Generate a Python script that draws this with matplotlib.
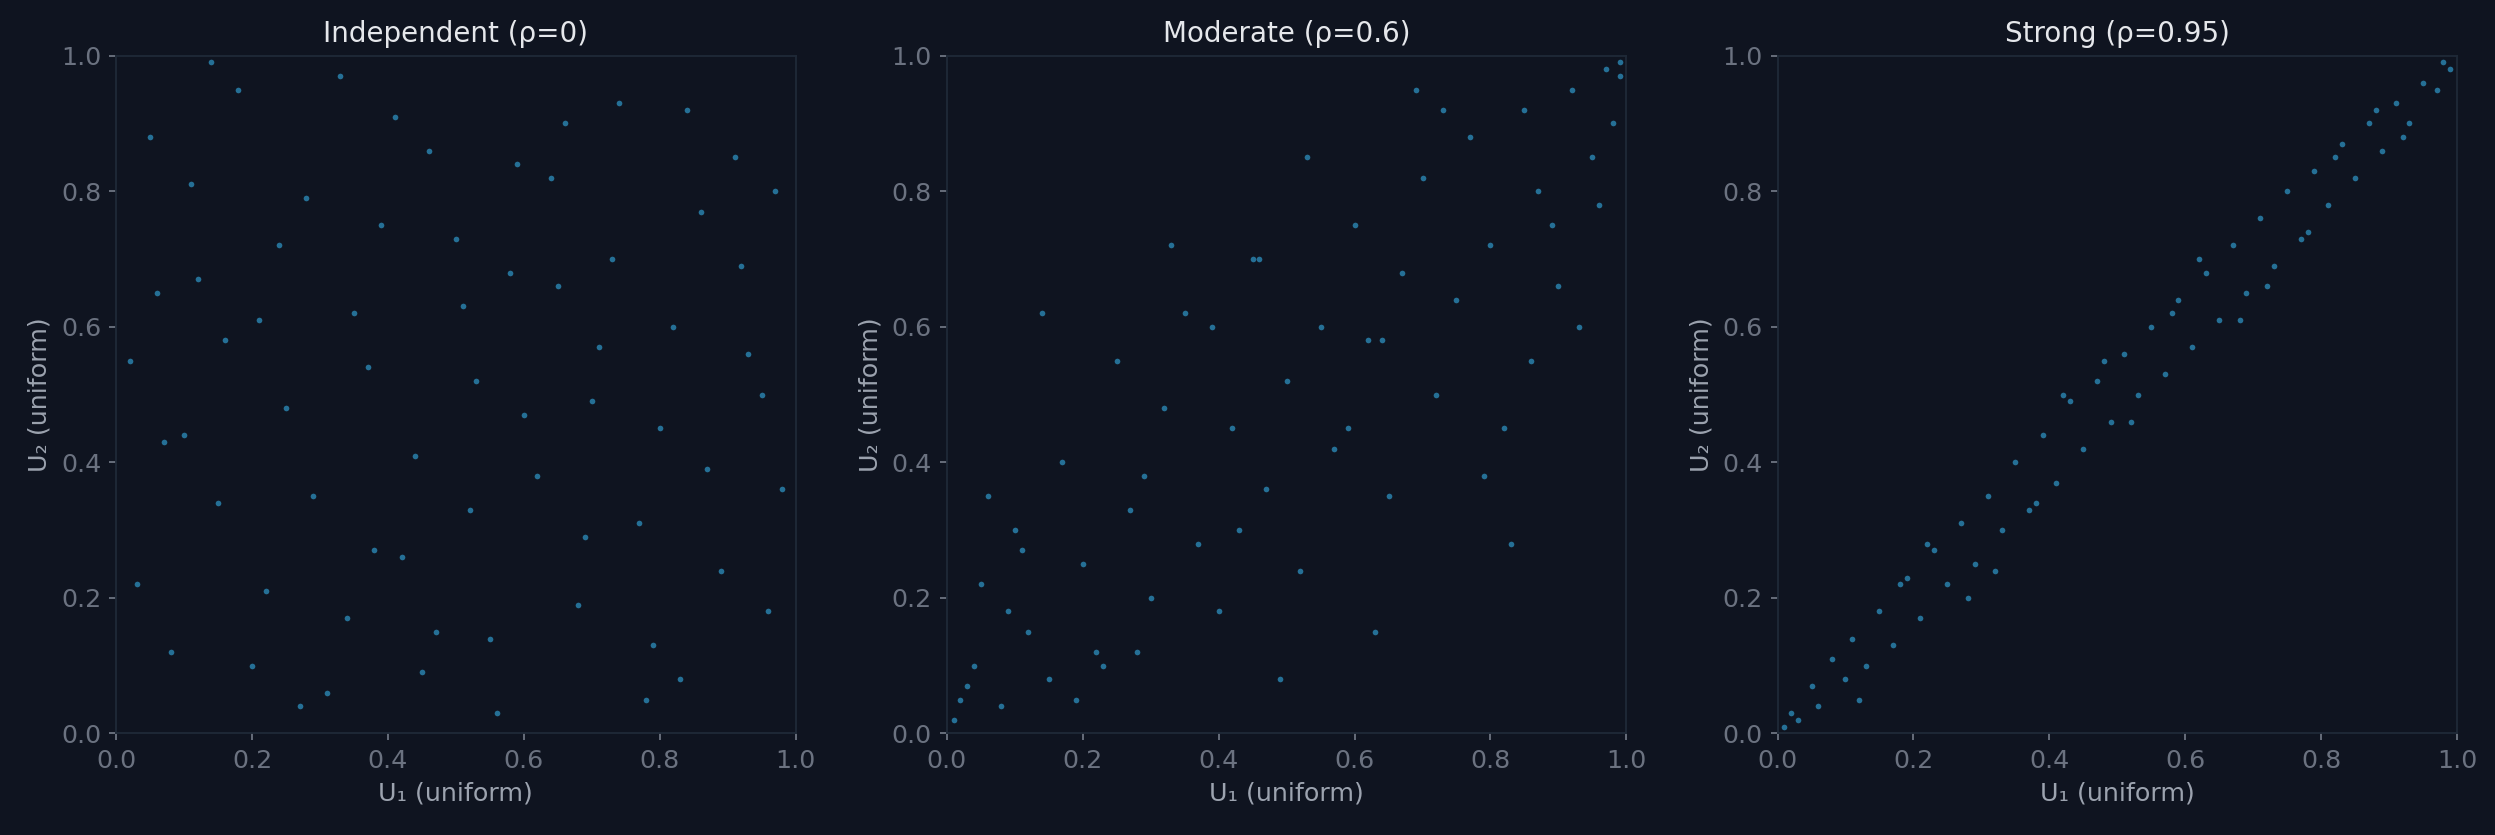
import matplotlib
matplotlib.use('agg')
import matplotlib.pyplot as plt

# points (a subset of the visible sample)
indep_u1 = [0.02, 0.05, 0.08, 0.12, 0.15, 0.18, 0.22, 0.25, 0.28, 0.31, 0.35, 0.38, 0.41, 0.44, 0.47, 0.50,
            0.53, 0.56, 0.59, 0.62, 0.65, 0.68, 0.71, 0.74, 0.77, 0.80, 0.83, 0.86, 0.89, 0.92, 0.95, 0.98,
            0.03, 0.07, 0.11, 0.16, 0.20, 0.24, 0.29, 0.33, 0.37, 0.42, 0.46, 0.51, 0.55, 0.60, 0.64, 0.69,
            0.73, 0.78, 0.82, 0.87, 0.91, 0.96, 0.06, 0.14, 0.27, 0.39, 0.52, 0.66, 0.79, 0.93, 0.10, 0.34,
            0.58, 0.84, 0.21, 0.45, 0.70, 0.97]
indep_u2 = [0.55, 0.88, 0.12, 0.67, 0.34, 0.95, 0.21, 0.48, 0.79, 0.06, 0.62, 0.27, 0.91, 0.41, 0.15, 0.73,
            0.52, 0.03, 0.84, 0.38, 0.66, 0.19, 0.57, 0.93, 0.31, 0.45, 0.08, 0.77, 0.24, 0.69, 0.50, 0.36,
            0.22, 0.43, 0.81, 0.58, 0.10, 0.72, 0.35, 0.97, 0.54, 0.26, 0.86, 0.63, 0.14, 0.47, 0.82, 0.29,
            0.70, 0.05, 0.60, 0.39, 0.85, 0.18, 0.65, 0.99, 0.04, 0.75, 0.33, 0.90, 0.13, 0.56, 0.44, 0.17,
            0.68, 0.92, 0.61, 0.09, 0.49, 0.80]

mod_u1 = [0.01, 0.02, 0.04, 0.05, 0.08, 0.10, 0.12, 0.15, 0.17, 0.20, 0.22, 0.25, 0.27, 0.30, 0.32, 0.35,
          0.37, 0.40, 0.42, 0.45, 0.47, 0.50, 0.52, 0.55, 0.57, 0.60, 0.62, 0.65, 0.67, 0.70, 0.72, 0.75,
          0.77, 0.80, 0.82, 0.85, 0.87, 0.90, 0.92, 0.95, 0.97, 0.99, 0.06, 0.14, 0.23, 0.33, 0.43, 0.53,
          0.63, 0.73, 0.83, 0.93, 0.09, 0.19, 0.29, 0.39, 0.49, 0.59, 0.69, 0.79, 0.89, 0.98, 0.03, 0.11,
          0.28, 0.46, 0.64, 0.86, 0.96, 0.99]
mod_u2 = [0.02, 0.05, 0.10, 0.22, 0.04, 0.30, 0.15, 0.08, 0.40, 0.25, 0.12, 0.55, 0.33, 0.20, 0.48, 0.62,
          0.28, 0.18, 0.45, 0.70, 0.36, 0.52, 0.24, 0.60, 0.42, 0.75, 0.58, 0.35, 0.68, 0.82, 0.50, 0.64,
          0.88, 0.72, 0.45, 0.92, 0.80, 0.66, 0.95, 0.85, 0.98, 0.97, 0.35, 0.62, 0.10, 0.72, 0.30, 0.85,
          0.15, 0.92, 0.28, 0.60, 0.18, 0.05, 0.38, 0.60, 0.08, 0.45, 0.95, 0.38, 0.75, 0.90, 0.07, 0.27,
          0.12, 0.70, 0.58, 0.55, 0.78, 0.99]

str_u1 = [0.01, 0.02, 0.03, 0.05, 0.06, 0.08, 0.10, 0.11, 0.13, 0.15, 0.17, 0.19, 0.21, 0.23, 0.25, 0.27,
          0.29, 0.31, 0.33, 0.35, 0.37, 0.39, 0.41, 0.43, 0.45, 0.47, 0.49, 0.51, 0.53, 0.55, 0.57, 0.59,
          0.61, 0.63, 0.65, 0.67, 0.69, 0.71, 0.73, 0.75, 0.77, 0.79, 0.81, 0.83, 0.85, 0.87, 0.89, 0.91,
          0.93, 0.95, 0.97, 0.98, 0.99, 0.12, 0.22, 0.32, 0.42, 0.52, 0.62, 0.72, 0.82, 0.92, 0.18, 0.38,
          0.58, 0.78, 0.28, 0.48, 0.68, 0.88]
str_u2 = [0.01, 0.03, 0.02, 0.07, 0.04, 0.11, 0.08, 0.14, 0.10, 0.18, 0.13, 0.23, 0.17, 0.27, 0.22, 0.31,
          0.25, 0.35, 0.30, 0.40, 0.33, 0.44, 0.37, 0.49, 0.42, 0.52, 0.46, 0.56, 0.50, 0.60, 0.53, 0.64,
          0.57, 0.68, 0.61, 0.72, 0.65, 0.76, 0.69, 0.80, 0.73, 0.83, 0.78, 0.87, 0.82, 0.90, 0.86, 0.93,
          0.90, 0.96, 0.95, 0.99, 0.98, 0.05, 0.28, 0.24, 0.50, 0.46, 0.70, 0.66, 0.85, 0.88, 0.22, 0.34,
          0.62, 0.74, 0.20, 0.55, 0.61, 0.92]

titles = ['Independent (ρ=0)', 'Moderate (ρ=0.6)', 'Strong (ρ=0.95)']
panels = [(indep_u1, indep_u2), (mod_u1, mod_u2), (str_u1, str_u2)]

bg = '#0f1420'
W, H = 1568, 524.8
fig = plt.figure(figsize=(15, 5.02), dpi=166.35, facecolor=bg)
lefts = [73, 595, 1117]
for i, (u1, u2) in enumerate(panels):
    ax = fig.add_axes([lefts[i] / W, (H - 461) / H, 427 / W, 426 / H], facecolor=bg)
    ax.scatter(u1, u2, s=6, color='#38bdf8', alpha=0.55, linewidths=0)
    ax.set_xlim(0, 1)
    ax.set_ylim(0, 1)
    ax.set_title(titles[i], color='#e5e7eb', fontsize=12)
    ax.set_xlabel('U₁ (uniform)', color='#9ca3af', fontsize=11)
    ax.set_ylabel('U₂ (uniform)', color='#9ca3af', fontsize=11)
    ax.tick_params(colors='#6b7280', labelsize=11, length=3)
    for s in ax.spines.values():
        s.set_color('#1f2937')

fig.savefig('out.png', facecolor=bg)
